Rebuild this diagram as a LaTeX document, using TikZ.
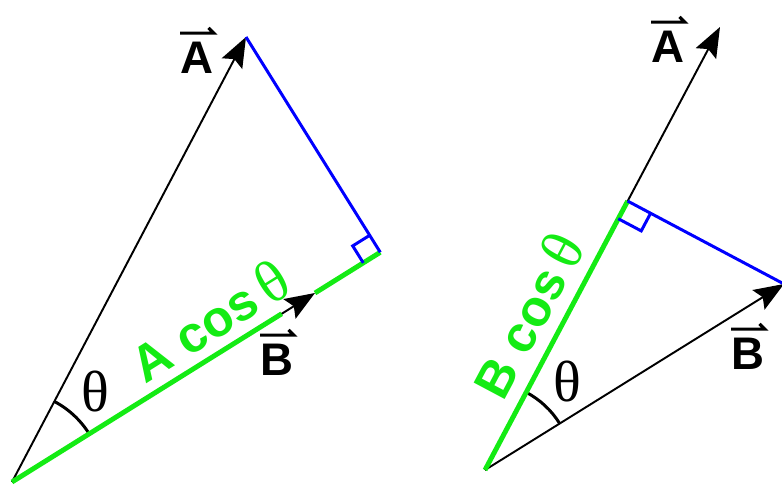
\documentclass[tikz,border=0pt]{standalone}
\usepackage{fontspec}
\setmainfont{Liberation Sans}
\newfontfamily\greekserif{Liberation Serif}
\usetikzlibrary{arrows.meta,calc,angles}

\definecolor{projgreen}{RGB}{20,235,20}

\tikzset{
	vec/.style={line width=1.1pt, -{Stealth[length=0.6cm, width=0.46cm, inset=0.1cm]}},
	proj/.style={projgreen, line width=2.8pt},
	perp/.style={blue, line width=1.7pt},
	harp/.style={line width=1.8pt},
	veclabel/.style={font=\fontsize{26}{26}\selectfont\bfseries, inner sep=0pt},
	projlabel/.style={projgreen, font=\fontsize{29}{29}\selectfont\bfseries, inner sep=0pt},
	thetalabel/.style={font=\fontsize{33}{33}\selectfont\greekserif, inner sep=0pt}
}

\newcommand{\bigtheta}{{\fontsize{34}{34}\selectfont\greekserif\mdseries θ}}

\begin{document}
\begin{tikzpicture}[x=0.02cm, y=0.02cm]
	\useasboundingbox (0,0) rectangle (782,487);

	% A projected on B
	\coordinate (o1) at (12, 5);
	\coordinate (a1) at (246, 450);
	\coordinate (b1) at (315, 194);
	\coordinate (f1) at ($(o1)!(a1)!(b1)$);

	\draw[vec] (o1) -- (a1);
	\draw[vec] (o1) -- (b1);
	\pic[draw, line width=1.7pt, angle radius=1.82cm] {angle=b1--o1--a1};
	\draw[proj] (o1) -- ($(o1)!0.89!(b1)$);
	\draw[proj] (b1) -- (f1);
	\draw[perp] (a1) -- (f1);

	\coordinate (s1a) at ($(f1)!0.4cm!(a1)$);
	\coordinate (s1b) at ($(f1)!0.4cm!(o1)$);
	\draw[perp] (s1a) -- ($(s1a)+(s1b)-(f1)$) -- (s1b);

	\node[veclabel] (alab1) at (197, 429) {A};
	\node[veclabel] (blab1) at (277, 127) {B};
	\node[thetalabel] (th1) at (95, 95) {θ};
	\node[projlabel, rotate=32] (acos) at (209, 167) {A cos\,\bigtheta};

	% B projected on A
	\coordinate (o2) at (485, 17);
	\coordinate (a2) at (720, 460);
	\coordinate (b2) at (784, 203);
	\coordinate (f2) at ($(o2)!(b2)!(a2)$);

	\draw[vec] (o2) -- (a2);
	\draw[vec] (o2) -- (b2);
	\pic[draw, line width=1.7pt, angle radius=1.76cm] {angle=b2--o2--a2};
	\draw[proj] (o2) -- (f2);
	\draw[perp] (f2) -- (b2);

	\coordinate (s2a) at ($(f2)!0.52cm!(b2)$);
	\coordinate (s2b) at ($(f2)!0.4cm!(o2)$);
	\draw[perp] (s2a) -- ($(s2a)+(s2b)-(f2)$) -- (s2b);

	\node[veclabel] (alab2) at (668, 440) {A};
	\node[veclabel] (blab2) at (748, 133) {B};
	\node[thetalabel] (th2) at (567, 105) {θ};
	\node[projlabel, rotate=62] (bcos) at (527, 172) {B cos\,\bigtheta};

	% arrows over the letters
	\foreach \lab in {alab1, blab1, alab2, blab2}
		\draw[harp] ([yshift=5pt]\lab.north west) -- ([yshift=5pt]\lab.north east) -- ++(-3pt, 3pt);

\end{tikzpicture}
\end{document}
